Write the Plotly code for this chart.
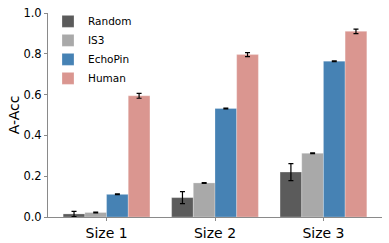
import plotly.graph_objects as go

categories = ["Size 1", "Size 2", "Size 3"]
series_names = ["Random", "IS3", "EchoPin", "Human"]
random_vals = [0.015, 0.095, 0.220]
random_err = [0.013, 0.029, 0.042]
is3_vals = [0.022, 0.167, 0.312]
is3_err = [0.002, 0.002, 0.002]
echopin_vals = [0.111, 0.532, 0.764]
echopin_err = [0.002, 0.002, 0.002]
human_vals = [0.594, 0.796, 0.910]
human_err = [0.012, 0.010, 0.011]
colors = ["#5b5b5b", "#a9a9a9", "#4682b4", "#da9690"]

values = [random_vals, is3_vals, echopin_vals, human_vals]
errors = [random_err, is3_err, echopin_err, human_err]
xpos = list(range(len(categories)))

fig = go.Figure()
for name, v, e, c in zip(series_names, values, errors, colors):
    fig.add_trace(go.Bar(
        x=xpos, y=v, name=name,
        marker=dict(color=c, line=dict(color="rgba(255,255,255,0.5)", width=0.5)),
        error_y=dict(type="data", array=e, visible=True, color="black", thickness=1.2, width=2.5),
    ))

fig.update_layout(
    width=389, height=243,
    margin=dict(l=48, r=7, t=13, b=26),
    barmode="group", bargap=0.2, bargroupgap=0,
    plot_bgcolor="white", paper_bgcolor="white",
    font=dict(family="DejaVu Sans", color="black"),
    legend=dict(x=0.0, y=1.03, xanchor="left", yanchor="top",
                font=dict(size=10.5), itemwidth=30, tracegroupgap=0,
                bgcolor="rgba(0,0,0,0)"),
    xaxis=dict(range=[-0.54, 2.54], tickvals=xpos, ticktext=categories,
               tickfont=dict(size=14), showgrid=False, zeroline=False,
               showline=True, linecolor="#8a8a8a", linewidth=1,
               ticks="outside", ticklen=3, tickcolor="#8a8a8a", automargin=False),
    yaxis=dict(range=[0, 1.0], tickvals=[0, 0.2, 0.4, 0.6, 0.8, 1.0], tickformat=".1f",
               tickfont=dict(size=11.5), showgrid=False, zeroline=False,
               showline=True, linecolor="#8a8a8a", linewidth=1,
               ticks="outside", ticklen=3, tickcolor="#8a8a8a", automargin=False,
               title=dict(text="A-Acc", font=dict(size=14), standoff=0)),
)

fig.write_html("out.html", config={"displayModeBar": False},
               post_script="document.body.style.margin='0';document.body.style.overflow='hidden';")
